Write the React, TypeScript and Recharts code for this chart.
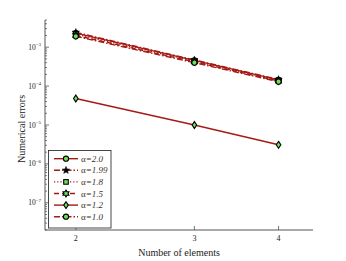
import React from "react";
import { LineChart, Line, XAxis, YAxis } from "recharts";

const xValues = [2, 3, 4];
const alpha20 = [2.3e-3, 4.6e-4, 1.45e-4];
const alpha199 = [2.4e-3, 4.7e-4, 1.48e-4];
const alpha18 = [2.15e-3, 4.4e-4, 1.4e-4];
const alpha15 = [2.0e-3, 4.2e-4, 1.35e-4];
const alpha12 = [4.8e-5, 1.0e-5, 3.1e-6];
const alpha10 = [1.9e-3, 4.0e-4, 1.3e-4];

const seriesLabels = ["2.0", "1.99", "1.8", "1.5", "1.2", "1.0"];
const seriesValues = [alpha20, alpha199, alpha18, alpha15, alpha12, alpha10];
const seriesKeys = ["a20", "a199", "a18", "a15", "a12", "a10"];
const seriesShapes = ["circle", "star", "square", "hexagram", "diamond", "circle"];
const seriesDash = ["", "6 2 1.5 2", "1.2 2", "5 3", "", "6 2 1.5 2"];

const xTicks = [2, 3, 4];
const yDomain = [2e-8, 5e-3];
const yTicks: number[] = [];
for (let e = -8; e <= -3; e++) {
  for (let m = 1; m <= 9; m++) {
    const v = m * Math.pow(10, e);
    if (v >= yDomain[0] * 0.999 && v <= yDomain[1] * 1.001) yTicks.push(v);
  }
}

const data = xValues.map((x, i) => {
  const row: Record<string, number> = { x };
  seriesKeys.forEach((k, j) => {
    row[k] = seriesValues[j][i];
  });
  return row;
});

const RED = "#a51a14";
const GREEN = "#6ee05a";
const AXIS = "#555";
const FONT = "'Liberation Serif', 'DejaVu Serif', serif";

function Marker({ shape, cx, cy }: { shape: string; cx: number; cy: number }) {
  if (cx == null || cy == null) return null;
  const sw = 1.1;
  if (shape === "circle") {
    return <circle cx={cx} cy={cy} r={2.6} fill={GREEN} stroke="#000" strokeWidth={sw} />;
  }
  if (shape === "square") {
    return <rect x={cx - 2.3} y={cy - 2.3} width={4.6} height={4.6} fill={GREEN} stroke="#000" strokeWidth={sw} />;
  }
  if (shape === "diamond") {
    return (
      <polygon
        points={`${cx},${cy - 3.4} ${cx + 2.3},${cy} ${cx},${cy + 3.4} ${cx - 2.3},${cy}`}
        fill={GREEN}
        stroke="#000"
        strokeWidth={sw}
      />
    );
  }
  if (shape === "star") {
    const pts: string[] = [];
    for (let i = 0; i < 10; i++) {
      const r = i % 2 === 0 ? 3.8 : 1.6;
      const a = -Math.PI / 2 + (i * Math.PI) / 5;
      pts.push(`${cx + r * Math.cos(a)},${cy + r * Math.sin(a)}`);
    }
    return <polygon points={pts.join(" ")} fill="#000" stroke="#000" strokeWidth={0.6} />;
  }
  if (shape === "hexagram") {
    const pts: string[] = [];
    for (let i = 0; i < 12; i++) {
      const r = i % 2 === 0 ? 3.4 : 2.0;
      const a = -Math.PI / 2 + (i * Math.PI) / 6;
      pts.push(`${cx + r * Math.cos(a)},${cy + r * Math.sin(a)}`);
    }
    return <polygon points={pts.join(" ")} fill={GREEN} stroke="#000" strokeWidth={sw} />;
  }
  return null;
}

function isMajor(v: number) {
  const e = Math.round(Math.log10(v));
  return Math.abs(v / Math.pow(10, e) - 1) < 1e-6;
}

function LeftTick(props: any) {
  const { x, y, payload } = props;
  const v = payload.value;
  const major = isMajor(v);
  const e = Math.round(Math.log10(v));
  return (
    <g>
      <line x1={x} x2={x + (major ? 4 : 2)} y1={y} y2={y} stroke={AXIS} strokeWidth={0.8} />
      {major && (
        <text x={x - 4} y={y + 2.5} textAnchor="end" fontFamily={FONT} fontSize={7.5} fill="#222">
          10
          <tspan dy={-3.5} fontSize={5}>
            {"\u2212" + -e}
          </tspan>
        </text>
      )}
    </g>
  );
}

function RightTick(props: any) {
  const { x, y, payload } = props;
  const major = isMajor(payload.value);
  return <line x1={x} x2={x - (major ? 4 : 2)} y1={y} y2={y} stroke={AXIS} strokeWidth={0.8} />;
}

function BottomTick(props: any) {
  const { x, y, payload } = props;
  return (
    <g>
      <line x1={x} x2={x} y1={y} y2={y - 4} stroke={AXIS} strokeWidth={0.8} />
      <text x={x} y={y + 11} textAnchor="middle" fontFamily={FONT} fontSize={8} fill="#222">
        {payload.value}
      </text>
    </g>
  );
}

function TopTick(props: any) {
  const { x, y } = props;
  return <line x1={x} x2={x} y1={y} y2={y + 4} stroke={AXIS} strokeWidth={0.8} />;
}

function LegendBox() {
  const top = 150;
  const rowH = 11.6;
  return (
    <svg width={346} height={261} style={{ position: "absolute", left: 0, top: 0, pointerEvents: "none" }}>
      <rect x={48.5} y={top + 0.5} width={62.5} height={77.5} fill="#fff" stroke="#333" strokeWidth={0.9} />
      {seriesLabels.map((lab, i) => {
        const cy = top + 8.7 + i * rowH;
        return (
          <g key={lab}>
            <line
              x1={54}
              x2={78}
              y1={cy}
              y2={cy}
              stroke={RED}
              strokeWidth={1.4}
              strokeDasharray={seriesDash[i] || undefined}
            />
            <Marker shape={seriesShapes[i]} cx={66} cy={cy} />
            <text x={81} y={cy + 3} fontFamily={FONT} fontSize={9} fill="#3d2f28">
              {"\u03b1"}
              <tspan fontStyle="italic">{"=" + lab}</tspan>
            </text>
          </g>
        );
      })}
    </svg>
  );
}

export default function App() {
  return (
    <div style={{ position: "absolute", left: 0, top: 0, width: 346, height: 261, background: "#fff" }}>
      <LineChart width={346} height={261} data={data} margin={{ top: 20, right: 33, bottom: 0, left: 0 }}>
        <XAxis
          xAxisId="b"
          dataKey="x"
          type="number"
          scale="log"
          domain={[1.8, 4.5]}
          ticks={xTicks}
          allowDataOverflow
          height={31}
          tickSize={0}
          tickMargin={0}
          tickLine={false}
          axisLine={{ stroke: AXIS, strokeWidth: 1 }}
          tick={<BottomTick />}
          interval={0}
          label={{ value: "Number of elements", position: "insideBottom", offset: 5, fontFamily: FONT, fontSize: 10, fill: "#222" }}
        />
        <XAxis
          xAxisId="t"
          orientation="top"
          dataKey="x"
          type="number"
          scale="log"
          domain={[1.8, 4.5]}
          ticks={xTicks}
          allowDataOverflow
          height={0}
          tickSize={0}
          tickMargin={0}
          tickLine={false}
          axisLine={{ stroke: AXIS, strokeWidth: 1 }}
          tick={<TopTick />}
          interval={0}
        />
        <YAxis
          yAxisId="l"
          type="number"
          scale="log"
          domain={yDomain}
          ticks={yTicks}
          allowDataOverflow
          width={45}
          tickSize={0}
          tickMargin={0}
          tickLine={false}
          axisLine={{ stroke: AXIS, strokeWidth: 1 }}
          tick={<LeftTick />}
          interval={0}
          label={{ value: "Numerical errors", angle: -90, position: "insideLeft", offset: 21, dy: 38, fontFamily: FONT, fontSize: 10, fill: "#222" }}
        />
        <YAxis
          yAxisId="r"
          orientation="right"
          type="number"
          scale="log"
          domain={yDomain}
          ticks={yTicks}
          allowDataOverflow
          width={0}
          tickSize={0}
          tickMargin={0}
          tickLine={false}
          axisLine={{ stroke: AXIS, strokeWidth: 1 }}
          tick={<RightTick />}
          interval={0}
        />
        {seriesKeys.map((k, i) => (
          <Line
            key={k}
            xAxisId="b"
            yAxisId="l"
            dataKey={k}
            stroke={RED}
            strokeWidth={1.4}
            strokeDasharray={seriesDash[i] || undefined}
            isAnimationActive={false}
            dot={(p: any) => <Marker key={`${k}-${p.index}`} shape={seriesShapes[i]} cx={p.cx} cy={p.cy} />}
            activeDot={false}
          />
        ))}
      </LineChart>
      <LegendBox />
    </div>
  );
}
